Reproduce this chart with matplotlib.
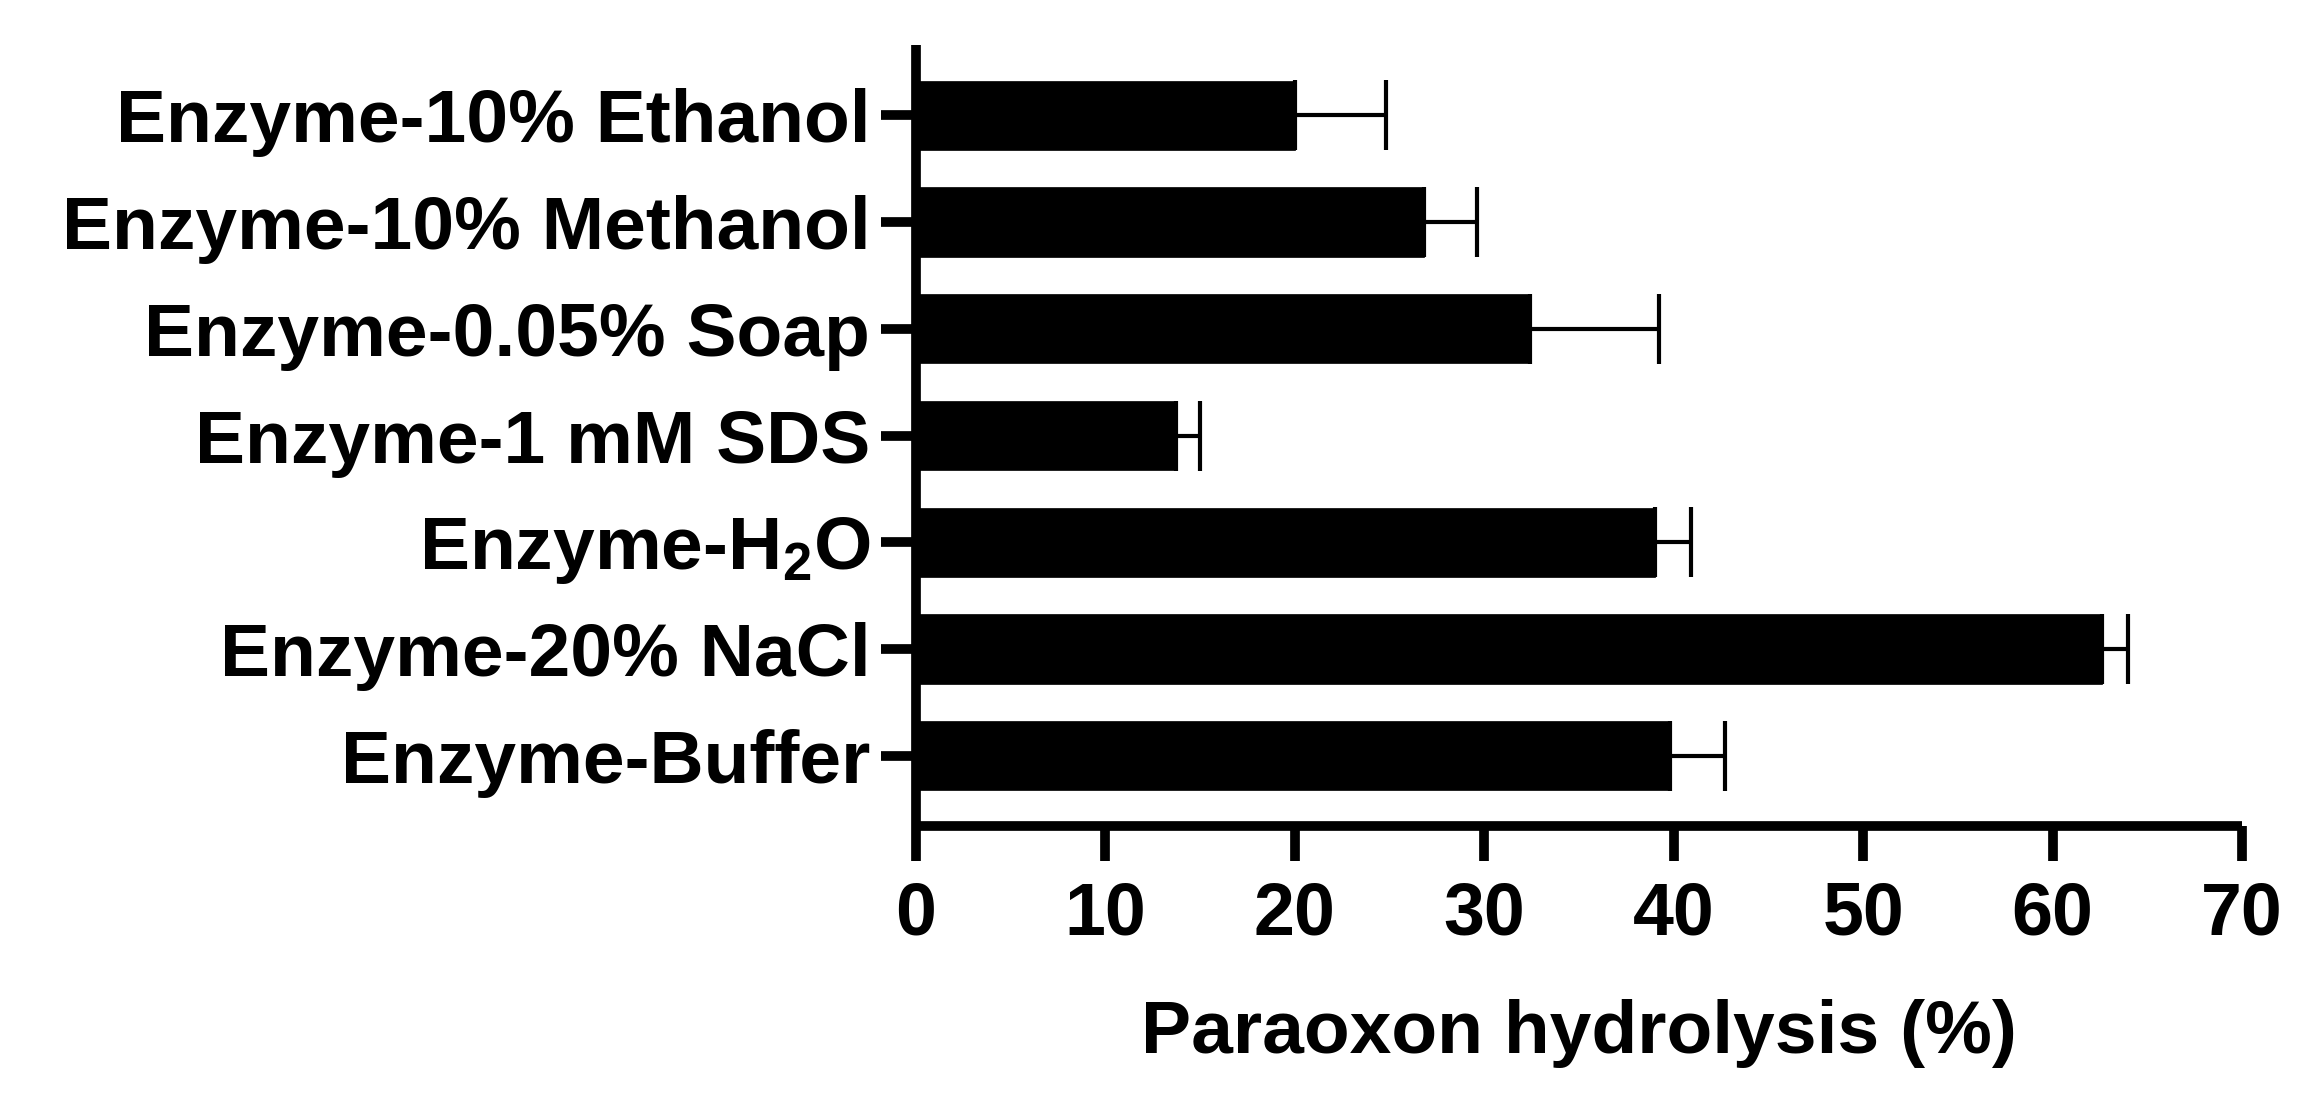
import matplotlib
matplotlib.use("Agg")
import matplotlib.pyplot as plt
import numpy as np

categories = ["Enzyme-Buffer", "Enzyme-20% NaCl", "Enzyme-H$_2$O", "Enzyme-1 mM SDS",
              "Enzyme-0.05% Soap", "Enzyme-10% Methanol", "Enzyme-10% Ethanol"]
values = [39.8, 62.6, 39.0, 13.7, 32.4, 26.8, 20.0]
errors = [2.9, 1.4, 1.9, 1.3, 6.8, 2.8, 4.8]
xticks = [0, 10, 20, 30, 40, 50, 60, 70]

plt.rcParams['font.family'] = ['Liberation Sans', 'DejaVu Sans']
plt.rcParams['font.weight'] = 'bold'
plt.rcParams['mathtext.fontset'] = 'custom'
plt.rcParams['mathtext.rm'] = 'Liberation Sans:bold'
plt.rcParams['mathtext.it'] = 'Liberation Sans:bold'
plt.rcParams['mathtext.bf'] = 'Liberation Sans:bold'
plt.rcParams['mathtext.default'] = 'rm'

fig = plt.figure(figsize=(23.08, 10.97), dpi=100)
ax = fig.add_axes([916 / 2308, 1 - 826 / 1097, (2242 - 916) / 2308, (826 - 45) / 1097])

y = np.arange(len(categories))
ax.barh(y, values, height=0.65, color='black', edgecolor='black', linewidth=0.5)
ax.errorbar(values, y, xerr=[np.zeros(len(errors)), errors], fmt='none',
            ecolor='black', elinewidth=3, capsize=25, capthick=3)

ax.set_xlim(0, 70)
ax.set_ylim(-0.66, 6.66)
ax.set_xticks(xticks)
ax.set_xticklabels([str(t) for t in xticks])
ax.set_yticks(y)
ax.set_yticklabels(categories)

for s in ['top', 'right']:
    ax.spines[s].set_visible(False)
for s in ['left', 'bottom']:
    ax.spines[s].set_linewidth(7)
    ax.spines[s].set_capstyle('butt')
ax.tick_params(axis='both', width=7, length=25, color='black')
ax.tick_params(axis='x', pad=14, labelsize=53)
ax.tick_params(axis='y', pad=8, labelsize=54)
for lab in ax.get_xticklabels() + ax.get_yticklabels():
    lab.set_fontweight('bold')

ax.set_xlabel("Paraoxon hydrolysis (%)", fontsize=54, fontweight='bold', labelpad=36)

fig.savefig("out.png", dpi=100)
